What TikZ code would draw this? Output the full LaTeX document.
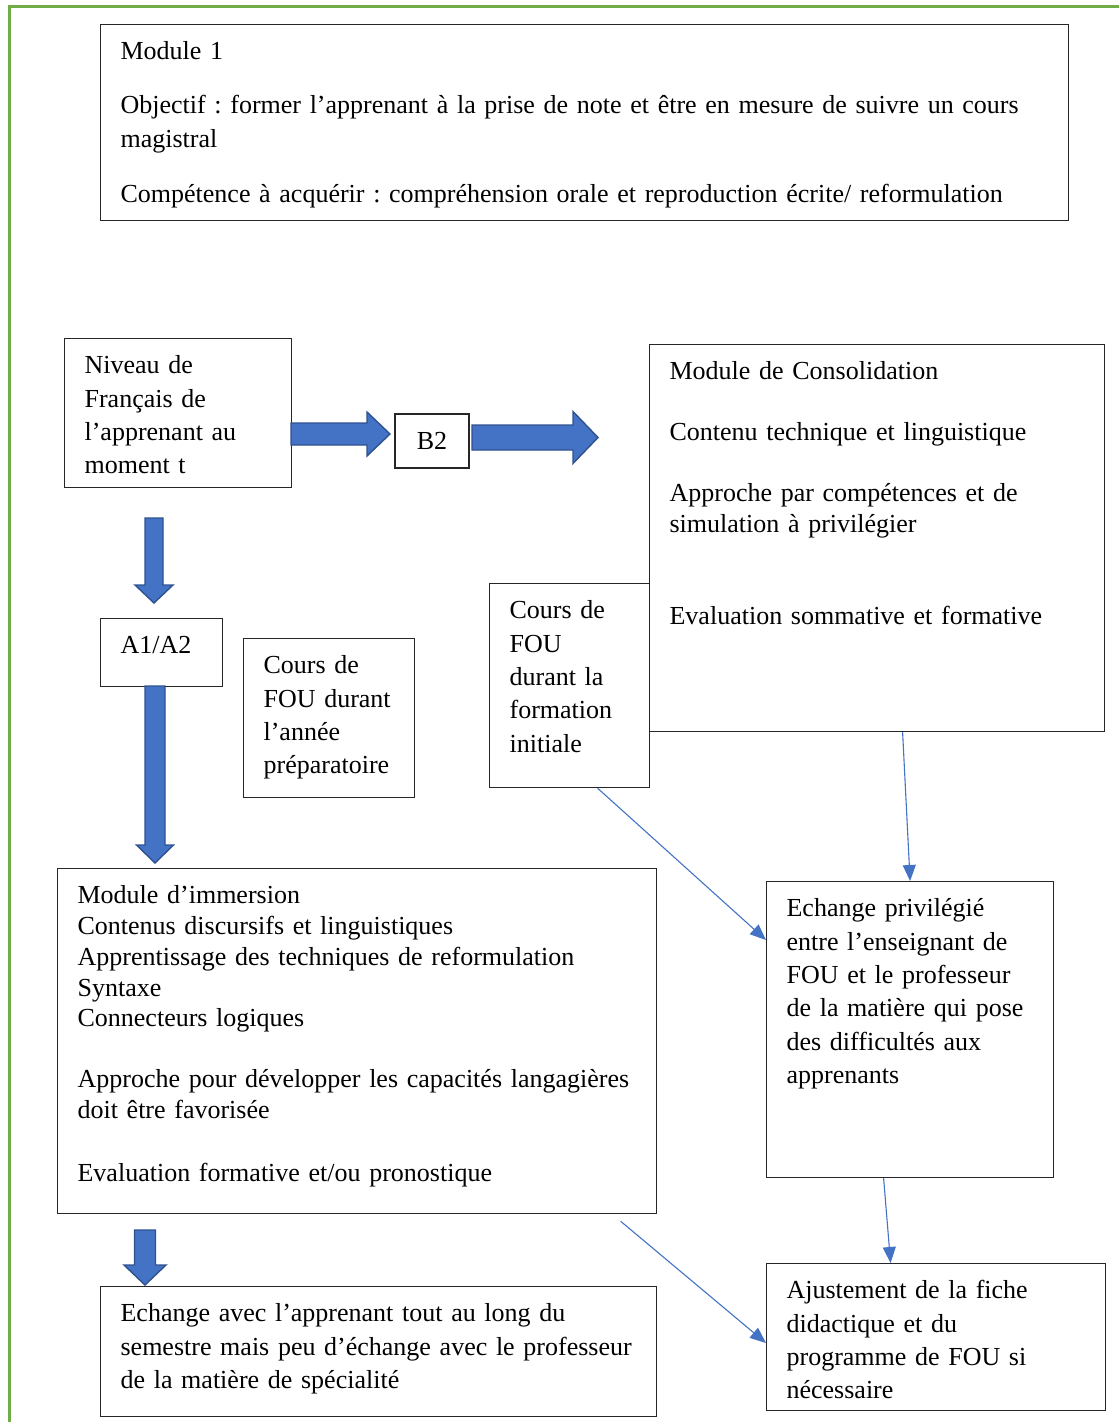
\documentclass[tikz,border=0pt]{standalone}
\usepackage{fontspec}
\setmainfont{Liberation Serif}
\frenchspacing
\usetikzlibrary{arrows.meta,calc}
\definecolor{bleu}{HTML}{4472C4}
\definecolor{bleufonce}{HTML}{2F528F}
\definecolor{vert}{HTML}{70AD47}
\tikzset{
  cadre/.style={draw=black!85,line width=1.2pt,anchor=north west,inner xsep=20pt,inner ysep=0pt,align=left,text height=35pt},
  lien/.style={draw=bleu,line width=1.1pt,-{Triangle[length=16pt,width=13pt]}},
  flechebloc/.style={fill=bleu,draw=bleufonce,line width=1.4pt,line join=miter}
}
% block arrows: tail, head base, tip, axis, shaft half width, head half width
\newcommand\blocdroite[6]{\draw[flechebloc] (#1,#4-#5) -- (#2,#4-#5) -- (#2,#4-#6) -- (#3,#4) -- (#2,#4+#6) -- (#2,#4+#5) -- (#1,#4+#5) -- cycle;}
\newcommand\blocbas[6]{\draw[flechebloc] (#4-#5,#1) -- (#4-#5,#2) -- (#4-#6,#2) -- (#4,#3) -- (#4+#6,#2) -- (#4+#5,#2) -- (#4+#5,#1) -- cycle;}
\begin{document}
\begin{tikzpicture}[x=1pt,y=-1pt,every node/.style={font=\fontsize{26pt}{33.4pt}\selectfont}]
\useasboundingbox (0,0) rectangle (1119,1422);
\draw[vert,line width=3pt] (9.5,1422) -- (9.5,6) -- (1125,6);

\node[cadre,text width=928pt,text depth=161pt] (module) at (100,24) {Module 1\\[20.6pt]
Objectif : former l’apprenant à la prise de note et être en mesure de suivre un cours\\
magistral\\[21.6pt]
Compétence à acquérir : compréhension orale et reproduction écrite/ reformulation};

\node[cadre,text width=187pt,text depth=114pt] (niveau) at (64,338) {Niveau de\\ Français de\\ l’apprenant au\\ moment t};
\node[draw=black!85,line width=1.2pt,minimum width=74pt,minimum height=54pt,inner sep=0pt] (b2) at (432,441) {B2};
\node[cadre,text width=415pt,text depth=352pt,font=\fontsize{26pt}{30.7pt}\selectfont] (consol) at (649,344) {Module de Consolidation\\[30.3pt]
Contenu technique et linguistique\\[30.3pt]
Approche par compétences et de\\ simulation à privilégier\\[61pt]
Evaluation sommative et formative};
\node[cadre,text width=82pt,text depth=33pt] (niveaua) at (100,618) {A1/A2};
\node[cadre,text width=131pt,text depth=124pt] (annee) at (243,638) {Cours de\\ FOU durant\\ l’année\\ préparatoire};
\node[cadre,text width=120pt,text depth=169pt] (init) at (489,583) {Cours de\\ FOU\\ durant la\\ formation\\ initiale};
\node[cadre,text width=559pt,text depth=310pt,font=\fontsize{26pt}{30.8pt}\selectfont] (immersion) at (57,868) {Module d’immersion\\
Contenus discursifs et linguistiques\\
Apprentissage des techniques de reformulation\\
Syntaxe\\
Connecteurs logiques\\[30.2pt]
Approche pour développer les capacités langagières\\
doit être favorisée\\[32pt]
Evaluation formative et/ou pronostique};
\node[cadre,text width=516pt,text depth=95pt] (avec) at (100,1286) {Echange avec l’apprenant tout au long du\\
semestre mais peu d’échange avec le professeur\\
de la matière de spécialité};
\node[cadre,text width=247pt,text depth=261pt] (priv) at (766,881) {Echange privilégié\\ entre l’enseignant de\\ FOU et le professeur\\ de la matière qui pose\\ des difficultés aux\\ apprenants};
\node[cadre,text width=299pt,text depth=112pt] (ajust) at (766,1263) {Ajustement de la fiche\\ didactique et du\\ programme de FOU si\\ nécessaire};

\blocdroite{291}{367}{390}{434}{11}{22}
\blocdroite{472}{573}{598}{437.5}{12.5}{26}
\blocbas{518}{585}{603}{154}{9}{19}
\blocbas{686}{845}{863}{155}{10}{18.5}
\blocbas{1230}{1265}{1285}{145}{10.5}{21}

\coordinate (depart) at ($(immersion.south)+(263.5,7)$);
\draw[lien] ($(init.south)+(28,0)$) -- ($(priv.north west)+(0,59)$);
\draw[lien] ($(consol.south)+(25.5,0)$) -- (priv.north);
\draw[lien] (depart) -- ($(ajust.north west)+(0,80)$);
\draw[lien] ($(priv.south)+(-26.5,0)$) -- ($(ajust.north)+(-45.5,0)$);
\end{tikzpicture}
\end{document}
